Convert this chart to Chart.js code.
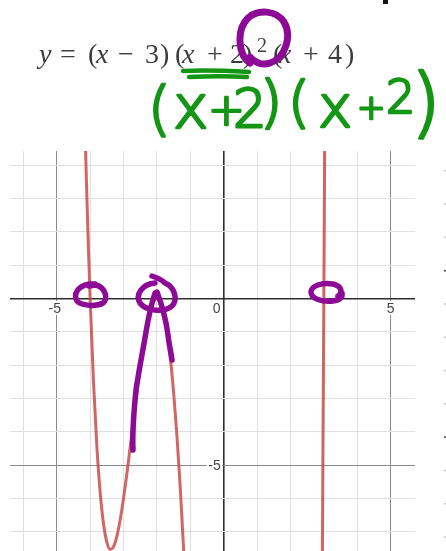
<!DOCTYPE html>
<html>
<head>
<meta charset="utf-8">
<script src="https://cdn.jsdelivr.net/npm/chart.js"></script>
<style>
  html, body { margin: 0; padding: 0; background: #fff; }
  body { width: 446px; height: 551px; position: relative; overflow: hidden; }
  #plot { position: absolute; left: 10px; top: 151px; width: 405px; height: 400px; }
  #ink { position: absolute; left: 0; top: 0; }
</style>
</head>
<body>
<div id="plot"><canvas id="graph"></canvas></div>

<svg id="ink" width="446" height="551" xmlns="http://www.w3.org/2000/svg">
  <!-- equation -->
  <text font-family="'Liberation Serif', 'DejaVu Serif', serif" font-size="28" fill="#3c3c3c"
        x="39 60 88 96 118 145 160 175 182 207 230 243 273 279 303 328 345" y="63"><tspan font-style="italic">y</tspan>=(<tspan font-style="italic">x</tspan>−3)(<tspan font-style="italic">x</tspan>+2)(<tspan font-style="italic">x</tspan>+4)</text>
  <text font-family="'Liberation Serif', 'DejaVu Serif', serif" font-size="20" fill="#3c3c3c" x="257" y="52">2</text>

  <!-- green note -->
  <g stroke="#139613" fill="none" stroke-width="4.5" stroke-linecap="round">
    <path d="M183,71 C205,70 230,71 249,72"/>
    <path d="M189,77 C210,76 230,76 247,77"/>
  </g>
  <text font-family="'DejaVu Sans', sans-serif" font-weight="200" fill="#139613" stroke="#139613"
        stroke-width="2.6" stroke-linejoin="round" stroke-linecap="round"
        x="148 173 208 233 260 288 318 357 386 411" y="129 128 125 127 121 121 127 119 113 128"><tspan font-size="58">(</tspan><tspan font-size="60">x</tspan><tspan font-size="44">+</tspan><tspan font-size="53">2</tspan><tspan font-size="57">)</tspan><tspan font-size="56">(</tspan><tspan font-size="58">x</tspan><tspan font-size="34">+</tspan><tspan font-size="46">2</tspan><tspan font-size="76">)</tspan></text>

  <!-- purple marks -->
  <g stroke="#8c0a96" fill="none" stroke-width="5.5" stroke-linecap="round" stroke-linejoin="round">
    <path stroke-width="7" d="M250,63 C238,55 236,30 248,18 C258,9 276,10 284,22 C292,35 286,58 270,63 C262,66 254,62 250,57"/>
    <path d="M95,284 C80,283 74,292 76,299 C78,306 96,307 103,303 C108,299 106,288 96,285 L89,286"/>
    <path d="M152,276 C158,278 162,280 165,283 C175,287 178,300 172,306 C164,313 146,311 140,303 C135,295 142,284 155,283"/>
    <path d="M338,296 C343,293 342,286 333,284 C322,282 311,286 311,292 C311,299 322,302 333,301 C340,300 343,297 342,293"/>
    <path d="M155,293 C151,305 148,320 146,332 C143,350 139,370 136,390 C134,410 132,430 133,450"/>
    <path d="M157,292 C162,305 166,320 168,335 C169,345 171,352 172,360"/>
  </g>

  <rect x="383" y="0" width="5" height="4" fill="#111"/>
  <g id="edgeTicks"></g>
</svg>

<script>
// sampled points of y = (x - 3)(x + 2)^2(x + 4), left part (through x = -4 and x = -2)
const leftX = [-4.15, -4.1, -4.05, -4.0, -3.9, -3.8, -3.7, -3.6, -3.5, -3.4, -3.3, -3.2, -3.1, -3.0,
               -2.9, -2.8, -2.7, -2.6, -2.5, -2.4, -2.3, -2.2, -2.1, -2.0, -1.9, -1.8, -1.7, -1.6,
               -1.5, -1.4, -1.3, -1.2, -1.1];
const leftY = [4.96, 3.13, 1.48, 0, -2.49, -4.41, -5.81, -6.76, -7.31, -7.53, -7.45, -7.14, -6.64, -6.00,
               -5.26, -4.45, -3.63, -2.82, -2.06, -1.38, -0.81, -0.37, -0.10, 0, -0.10, -0.42, -0.97, -1.77,
               -2.81, -4.12, -5.69, -7.53, -9.63];
// right part (through x = 3)
const rightX = [2.9, 2.95, 3.0, 3.05, 3.1];
const rightY = [-16.57, -8.52, 0, 8.99, 18.47];

const xTickLabels = [-5, 0, 5];
const yTickLabels = [-5];

const toPoints = (xs, ys) => xs.map((x, i) => ({ x: x, y: ys[i] }));

// faint marks along the right page edge
const edge = document.getElementById('edgeTicks');
for (let i = 0; i < 12; i++) {
  const r = document.createElementNS('http://www.w3.org/2000/svg', 'rect');
  r.setAttribute('x', 444);
  r.setAttribute('y', (170 + i * 33.3).toFixed(1));
  r.setAttribute('width', 2);
  r.setAttribute('height', 1.5);
  r.setAttribute('fill', (i === 3 || i === 8) ? '#444' : '#c8c8c8');
  edge.appendChild(r);
}

const isMajor = v => Math.abs(v % 5) < 1e-9;
const gridColor = c => c.tick.value === 0 ? '#2e2e2e' : (isMajor(c.tick.value) ? '#8a8a8a' : '#e0e0e0');
const gridWidth = c => c.tick.value === 0 ? 1.6 : 1;

// numbers written along the axes, Desmos style
const axisLabels = {
  id: 'axisLabels',
  afterDatasetsDraw(chart) {
    const { ctx, scales: { x, y } } = chart;
    const ox = x.getPixelForValue(0);
    const oy = y.getPixelForValue(0);
    ctx.save();
    ctx.font = '14px "Liberation Sans", Arial, sans-serif';
    ctx.fillStyle = '#444';
    ctx.strokeStyle = '#fff';
    ctx.lineWidth = 4;
    ctx.lineJoin = 'round';
    ctx.textAlign = 'center';
    ctx.textBaseline = 'top';
    xTickLabels.forEach(v => {
      const px = v === 0 ? ox - 7 : x.getPixelForValue(v) - (v < 0 ? 2 : 0);
      ctx.strokeText(String(v), px, oy + 4);
      ctx.fillText(String(v), px, oy + 4);
    });
    ctx.textAlign = 'right';
    ctx.textBaseline = 'middle';
    yTickLabels.forEach(v => {
      const py = y.getPixelForValue(v) + 1;
      ctx.strokeText(String(v), ox - 3, py);
      ctx.fillText(String(v), ox - 3, py);
    });
    ctx.restore();
  }
};

const curveStyle = {
  borderColor: 'rgba(199, 68, 64, 0.82)',
  borderWidth: 3,
  pointRadius: 0,
  fill: false,
  cubicInterpolationMode: 'monotone'
};

new Chart(document.getElementById('graph'), {
  type: 'line',
  data: {
    datasets: [
      Object.assign({ data: toPoints(leftX, leftY) }, curveStyle),
      Object.assign({ data: toPoints(rightX, rightY) }, curveStyle)
    ]
  },
  options: {
    responsive: true,
    maintainAspectRatio: false,
    animation: false,
    events: [],
    layout: { padding: 0 },
    plugins: { legend: { display: false }, tooltip: { enabled: false } },
    scales: {
      x: {
        type: 'linear',
        min: -6.40,
        max: 5.73,
        afterFit: s => { s.height = 0; },
        ticks: { display: false, stepSize: 1, includeBounds: false },
        grid: { color: gridColor, lineWidth: gridWidth, drawTicks: false, tickLength: 0 },
        border: { display: false }
      },
      y: {
        type: 'linear',
        min: -7.58,
        max: 4.43,
        afterFit: s => { s.width = 0; },
        ticks: { display: false, stepSize: 1, includeBounds: false },
        grid: { color: gridColor, lineWidth: gridWidth, drawTicks: false, tickLength: 0 },
        border: { display: false }
      }
    }
  },
  plugins: [axisLabels]
});
</script>
</body>
</html>
